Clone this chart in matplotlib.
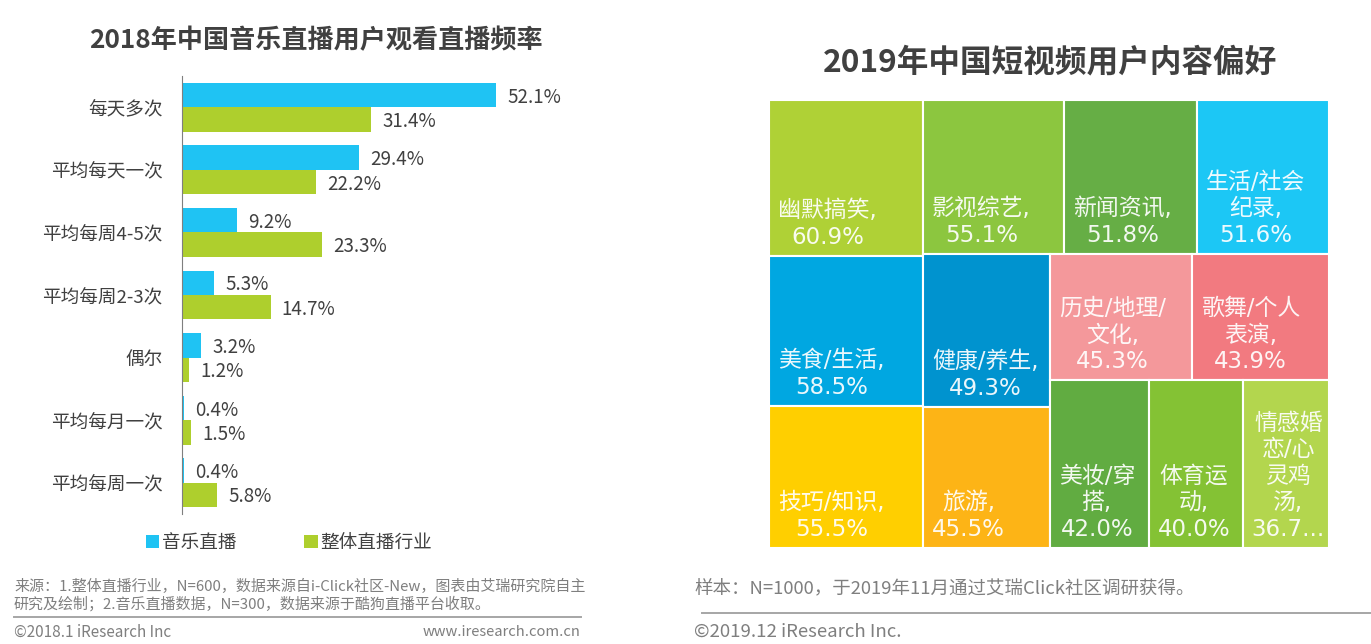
import matplotlib
matplotlib.use("Agg")
import matplotlib.pyplot as plt
from matplotlib.patches import Rectangle

plt.rcParams['font.family'] = ['Noto Sans CJK SC', 'DejaVu Sans']

W, H = 1371, 644

# left chart
freq_labels = ["每天多次", "平均每天一次", "平均每周4-5次", "平均每周2-3次", "偶尔", "平均每月一次", "平均每周一次"]
music_live = [52.1, 29.4, 9.2, 5.3, 3.2, 0.4, 0.4]
all_live = [31.4, 22.2, 23.3, 14.7, 1.2, 1.5, 5.8]

# right chart, cells grouped the way the treemap nests them
left_names = ["幽默搞笑,\n60.9%", "美食/生活,\n58.5%", "技巧/知识,\n55.5%"]
left_vals = [60.9, 58.5, 55.5]
left_cols = ["#AFD136", "#00A7E1", "#FFCF00"]

top_names = ["影视综艺,\n55.1%", "新闻资讯,\n51.8%", "生活/社会\n纪录,\n51.6%"]
top_vals = [55.1, 51.8, 51.6]
top_cols = ["#8CC63F", "#66AE45", "#1CC7F5"]

mid_names = ["健康/养生,\n49.3%", "旅游,\n45.5%"]
mid_vals = [49.3, 45.5]
mid_cols = ["#0093CF", "#FDB416"]

upper_names = ["历史/地理/\n文化,\n45.3%", "歌舞/个人\n表演,\n43.9%"]
upper_vals = [45.3, 43.9]
upper_cols = ["#F4989B", "#F27A80"]

lower_names = ["美妆/穿\n搭,\n42.0%", "体育运\n动,\n40.0%", "情感婚\n恋/心\n灵鸡\n汤,\n36.7..."]
lower_vals = [42.0, 40.0, 36.7]
lower_cols = ["#61AC41", "#84C234", "#B3D64E"]


def px_axes(x0, y0, x1, y1):
    return fig.add_axes([x0 / W, 1 - y1 / H, (x1 - x0) / W, (y1 - y0) / H])


def px_text(x, y, s, **kw):
    return fig.text(x / W, 1 - y / H, s, **kw)


def px_line(x0, x1, y, color):
    fig.add_artist(plt.Line2D([x0 / W, x1 / W], [1 - y / H, 1 - y / H], color=color, lw=1.4))


fig = plt.figure(figsize=(W / 100, H / 100), dpi=100, facecolor="white")

# ---- bars
ax = px_axes(182, 76, 600, 514)
ys = list(range(len(freq_labels)))
bar_h = 0.39
b1 = ax.barh([y - bar_h / 2 for y in ys], music_live, height=bar_h, color="#1FC3F3", label="音乐直播")
b2 = ax.barh([y + bar_h / 2 for y in ys], all_live, height=bar_h, color="#AECF2D", label="整体直播行业")
ax.set_xlim(0, 418 / 6.03)
ax.set_ylim(len(freq_labels) - 0.5, -0.5)
ax.set_yticks(ys)
ax.set_yticklabels(freq_labels, fontsize=13.4, color="#404040")
ax.tick_params(axis="y", length=0, pad=14)
ax.set_xticks([])
for s in ["top", "right", "bottom"]:
    ax.spines[s].set_visible(False)
ax.spines["left"].set_color("#7f7f7f")
ax.patch.set_alpha(0)
for bars, vals in [(b1, music_live), (b2, all_live)]:
    for t in ax.bar_label(bars, labels=["%.1f%%" % v for v in vals], padding=8, fontsize=13.5, color="#404040"):
        # numbers sit a little under the bar centre
        t.xyann = (t.xyann[0], t.xyann[1] - 1.5)

fig.legend(handles=[b1, b2], loc="center left", bbox_to_anchor=(129 / W, 1 - 543 / H), ncol=2, frameon=False,
           fontsize=13.4, labelcolor="#404040", handlelength=0.72, handleheight=0.72, handletextpad=0.15,
           columnspacing=3.65)

px_text(316, 41, "2018年中国音乐直播用户观看直播频率", ha="center", va="center", fontsize=18.8,
        fontweight="bold", color="#404040")
px_text(14, 586, "来源：1.整体直播行业，N=600，数据来源自i-Click社区-New，图表由艾瑞研究院自主", ha="left", va="center",
        fontsize=10.8, color="#7f7f7f")
px_text(14, 604, "研究及绘制；2.音乐直播数据，N=300，数据来源于酷狗直播平台收取。", ha="left", va="center",
        fontsize=10.8, color="#7f7f7f")
px_line(14, 581, 617, "#a6a6a6")
px_text(14, 632, "©2018.1 iResearch Inc", ha="left", va="center", fontsize=11, color="#7f7f7f")
px_text(580, 632, "www.iresearch.com.cn", ha="right", va="center", fontsize=10.6, color="#7f7f7f")

# ---- treemap
tm = px_axes(769, 100, 1329, 548)
tm.set_xlim(0, 1)
tm.set_ylim(1, 0)
tm.axis("off")


def draw_cells(names, vals, cols, x, y, w, h, along_x):
    # split a box along one direction, sizes follow the values
    total = sum(vals)
    pos = 0
    for name, v, c in zip(names, vals, cols):
        part = v / total
        if along_x:
            cx, cy, cw, ch = x + pos * w, y, part * w, h
        else:
            cx, cy, cw, ch = x, y + pos * h, w, part * h
        pos += part
        tm.add_patch(Rectangle((cx, cy), cw, ch, facecolor=c, edgecolor="white", lw=1.5))
        tm.text(cx + 9 / 560, cy + ch - 7 / 448, name, ha="left", va="bottom", multialignment="center",
                fontsize=16.5, color="white", linespacing=1.2, alpha=0.92,
                family=['DejaVu Sans', 'Noto Sans CJK SC'])


total_all = sum(left_vals + top_vals + mid_vals + upper_vals + lower_vals)
left_w = sum(left_vals) / total_all
draw_cells(left_names, left_vals, left_cols, 0, 0, left_w, 1, False)

rest = total_all - sum(left_vals)
top_h = sum(top_vals) / rest
draw_cells(top_names, top_vals, top_cols, left_w, 0, 1 - left_w, top_h, True)

rest2 = rest - sum(top_vals)
mid_w = (1 - left_w) * sum(mid_vals) / rest2
draw_cells(mid_names, mid_vals, mid_cols, left_w, top_h, mid_w, 1 - top_h, False)

rest3 = rest2 - sum(mid_vals)
upper_h = (1 - top_h) * sum(upper_vals) / rest3
draw_cells(upper_names, upper_vals, upper_cols, left_w + mid_w, top_h, 1 - left_w - mid_w, upper_h, True)
draw_cells(lower_names, lower_vals, lower_cols, left_w + mid_w, top_h + upper_h, 1 - left_w - mid_w,
           1 - top_h - upper_h, True)

px_text(1050, 62, "2019年中国短视频用户内容偏好", ha="center", va="center", fontsize=22.8, fontweight="bold",
        color="#404040")
px_text(694, 589, "样本：N=1000，于2019年11月通过艾瑞Click社区调研获得。", ha="left", va="center", fontsize=13.3,
        color="#7f7f7f")
px_line(702, 1371, 613, "#a6a6a6")
px_text(694, 632, "©2019.12 iResearch Inc.", ha="left", va="center", fontsize=13.4, color="#7f7f7f")

fig.savefig("out.png", dpi=100)
